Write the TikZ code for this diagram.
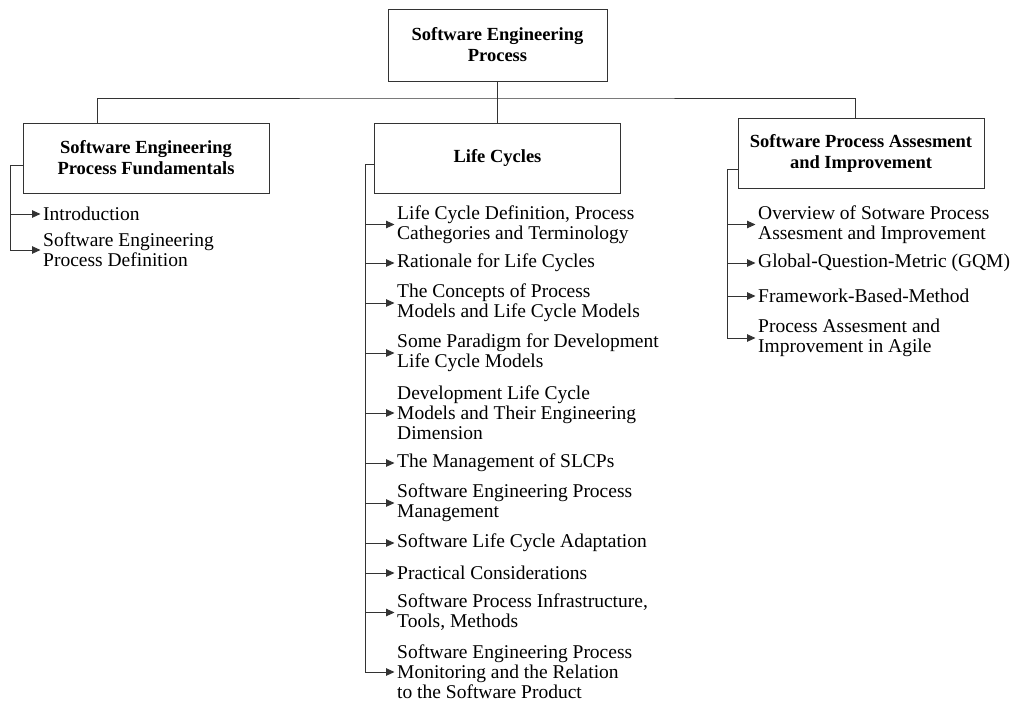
\documentclass[tikz,border=0pt]{standalone}
\usepackage{fontspec}
\setmainfont{Liberation Serif}
\usetikzlibrary{arrows.meta}
\begin{document}
\begin{tikzpicture}[x=1pt,y=-1pt,
  box/.style={draw=black!80, line width=0.9pt, inner sep=0pt, align=center,
    minimum width=246pt, minimum height=70pt,
    font=\fontsize{18.5}{21}\selectfont\bfseries},
  item/.style={anchor=west, inner sep=0pt, align=left,
    font=\fontsize{19.5}{20}\selectfont},
  link/.style={draw=black!80, line width=0.9pt},
  arr/.style={link, -{Triangle[length=8.5pt,width=7.5pt]}, shorten >=2.5pt}]
\useasboundingbox (0,0) rectangle (1021,702);

% boxes
\node[box, minimum width=219pt, minimum height=72pt] (top) at (497.5,45) {Software Engineering\\Process};
\node[box] (left) at (146,158) {Software Engineering\\Process Fundamentals};
\node[box] (mid) at (497.5,158) {Life Cycles};
\node[box] (right) at (861,153) {Software Process Assesment\\and Improvement};

% tree connectors
\coordinate (bus) at (497.5,98);
\draw[link] (top.south) -- (mid.north);
\draw[link] ([xshift=-49pt]left.north) |- (bus) -| ([xshift=-6pt]right.north);

% left items
\node[item] (l1) at (43,214) {Introduction};
\node[item] (l2) at (43,250) {Software Engineering\\Process Definition};
\coordinate (lb) at (10,165);
\draw[link] ([yshift=-7pt]left.west) -- (lb) -- (lb |- l2.west);
\foreach \n in {l1,l2} \draw[arr] (lb |- \n.west) -- (\n.west);

% middle items
\node[item] (m1) at (397,224.5) {Life Cycle Definition, Process\\Cathegories and Terminology};
\node[item] (m2) at (397,263) {Rationale for Life Cycles};
\node[item] (m3) at (397,303) {The Concepts of Process\\Models and Life Cycle Models};
\node[item] (m4) at (397,353) {Some Paradigm for Development\\Life Cycle Models};
\node[item] (m5) at (397,413) {Development Life Cycle\\Models and Their Engineering\\Dimension};
\node[item] (m6) at (397,463) {The Management of SLCPs};
\node[item] (m7) at (397,503) {Software Engineering Process\\Management};
\node[item] (m8) at (397,543) {Software Life Cycle Adaptation};
\node[item] (m9) at (397,573) {Practical Considerations};
\node[item] (m10) at (397,612.5) {Software Process Infrastructure,\\Tools, Methods};
\node[item] (m11) at (397,672) {Software Engineering Process\\Monitoring and the Relation\\to the Software Product};
\coordinate (mb) at (365,164);
\draw[link] ([yshift=-6pt]mid.west) -- (mb) -- (mb |- m11.west);
\foreach \n in {m1,m2,m3,m4,m5,m6,m7,m8,m9,m10,m11} \draw[arr] (mb |- \n.west) -- (\n.west);

% right items
\node[item] (r1) at (758,224.5) {Overview of Sotware Process\\Assesment and Improvement};
\node[item] (r2) at (758,263) {Global-Question-Metric (GQM)};
\node[item] (r3) at (758,296) {Framework-Based-Method};
\node[item] (r4) at (758,338) {Process Assesment and\\Improvement in Agile};
\coordinate (rb) at (727,169);
\draw[link] ([yshift=-16pt]right.west) -- (rb) -- (rb |- r4.west);
\foreach \n in {r1,r2,r3,r4} \draw[arr] (rb |- \n.west) -- (\n.west);
\end{tikzpicture}
\end{document}
